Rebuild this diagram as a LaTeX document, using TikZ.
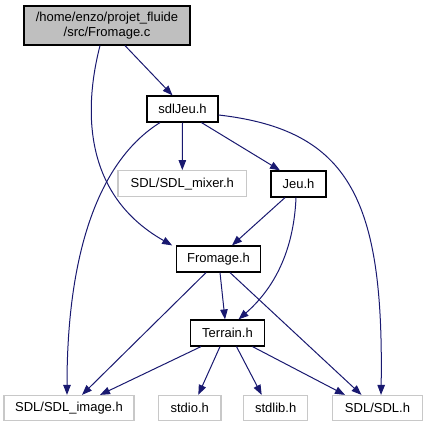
\documentclass[tikz,border=0pt]{standalone}
\usepackage{fontspec}
\setmainfont{Liberation Sans}
\usetikzlibrary{arrows.meta}
\definecolor{edgeblue}{HTML}{191970}
\definecolor{boxgray}{HTML}{BFBFBF}
\definecolor{extgray}{HTML}{C8C8C8}
\tikzset{
  box/.style={draw=black, line width=1.2pt, inner sep=0pt, minimum height=26pt, font=\fontsize{13}{15}\selectfont, align=center},
  extbox/.style={draw=extgray, line width=1.2pt, inner sep=0pt, minimum height=25pt, font=\fontsize{13}{15}\selectfont},
  dep/.style={draw=edgeblue, line width=1pt, -{Triangle[length=10pt,width=7.5pt]}}
}
\begin{document}
\begin{tikzpicture}[x=1pt,y=-1pt]
\useasboundingbox (0,0) rectangle (427,427);
% nodes
\node[box, fill=boxgray, minimum width=166, minimum height=39] (fc) at (107,25.5) {/home/enzo/projet\_fluide\\/src/Fromage.c};
\node[box, minimum width=71] (sdljeu) at (182.5,109) {sdlJeu.h};
\node[extbox, minimum width=128.5, minimum height=26] (mixer) at (182.3,183.7) {SDL/SDL\_mixer.h};
\node[box, minimum width=55] (jeu) at (298.5,184) {Jeu.h};
\node[box, minimum width=83.5] (fromh) at (218.5,259) {Fromage.h};
\node[box, minimum width=73.5] (terrain) at (227.5,333) {Terrain.h};
\node[extbox, minimum width=130] (img) at (69,408) {SDL/SDL\_image.h};
\node[extbox, minimum width=62.7] (stdio) at (189.7,408) {stdio.h};
\node[extbox, minimum width=64] (stdlib) at (275.7,408) {stdlib.h};
\node[extbox, minimum width=90.4] (sdl) at (377.5,408) {SDL/SDL.h};
% edges
\draw[dep] ([xshift=18]fc.south) -- ([xshift=-10]sdljeu.north);
\draw[dep] ([xshift=-7]fc.south) .. controls (86,100) and (78,192) .. ([xshift=-4]fromh.north west);
\draw[dep] (sdljeu.south) -- (mixer.north);
\draw[dep] ([xshift=19]sdljeu.south) -- ([xshift=-18.5]jeu.north);
\draw[dep] ([xshift=-22.5]sdljeu.south) .. controls (100,160) and (67,250) .. ([xshift=-2]img.north);
\draw[dep] ([yshift=-6]sdljeu.east) .. controls (350,130) and (384,200) .. ([xshift=3.5]sdl.north);
\draw[dep] ([xshift=-13.5]jeu.south) -- ([xshift=13.5]fromh.north);
\draw[dep] ([xshift=-2.5]jeu.south) .. controls (294,245) and (278,285) .. ([xshift=11]terrain.north);
\draw[dep] ([xshift=1.5]fromh.south) -- ([xshift=-2.5]terrain.north);
\draw[dep] ([xshift=-12.5]fromh.south) -- ([xshift=13]img.north);
\draw[dep] ([xshift=11.5]fromh.south) -- ([xshift=-16]sdl.north);
\draw[dep] ([xshift=-26.5]terrain.south) -- ([xshift=31]img.north);
\draw[dep] ([xshift=-7.5]terrain.south) -- ([xshift=8.6]stdio.north);
\draw[dep] ([xshift=9]terrain.south) -- ([xshift=-14]stdlib.north);
\draw[dep] ([xshift=25]terrain.south) -- ([xshift=-32.5]sdl.north);
\end{tikzpicture}
\end{document}
